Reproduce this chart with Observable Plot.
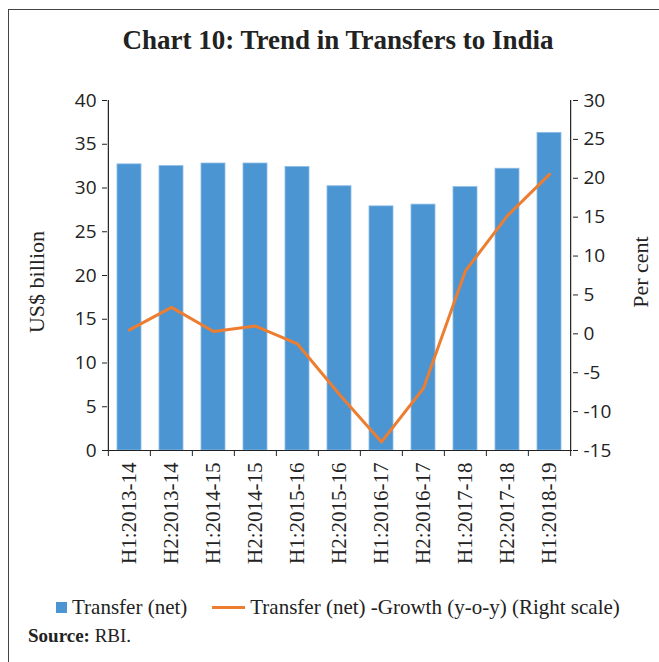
<!DOCTYPE html>
<html><head><meta charset="utf-8">
<script src="https://cdn.jsdelivr.net/npm/d3@7"></script>
<script src="https://cdn.jsdelivr.net/npm/@observablehq/plot@0.6"></script>
<style>
body{margin:0;background:#fff;width:659px;height:662px;position:relative;overflow:hidden;font-family:"Liberation Serif",serif;color:#222}
#frame{position:absolute;left:8px;top:9px;width:700px;height:700px;border-left:1.5px solid #444;border-top:1.5px solid #444}
#title{position:absolute;left:0;width:676px;top:24px;text-align:center;font-weight:bold;font-size:27px;line-height:32px}
#chart{position:absolute;left:0;top:70px}
.ylab{position:absolute;font-size:22px;white-space:nowrap;line-height:22px;transform:translate(-50%,-50%) rotate(-90deg)}
#legend{position:absolute;left:56px;top:595px;font-size:21px;line-height:24px;display:flex;align-items:center;white-space:nowrap}
.sw{display:inline-block;width:11px;height:11px;background:#4b96d2;margin-right:5px}
.ln{display:inline-block;width:33px;height:3px;background:#ed7d31;margin-left:25px;margin-right:5px}
#source{position:absolute;left:28px;top:625px;font-size:19px;line-height:22px}
</style></head>
<body>
<div id="frame"></div>
<div id="title">Chart 10: Trend in Transfers to India</div>
<div id="chart"></div>
<div class="ylab" style="left:37px;top:282px">US$ billion</div>
<div class="ylab" style="left:641px;top:272px">Per cent</div>
<div id="legend"><span class="sw"></span><span>Transfer (net)</span><span class="ln"></span><span>Transfer (net) -Growth (y-o-y) (Right scale)</span></div>
<div id="source"><b>Source:</b> RBI.</div>
<script>
const categories = ["H1:2013-14","H2:2013-14","H1:2014-15","H2:2014-15","H1:2015-16","H2:2015-16","H1:2016-17","H2:2016-17","H1:2017-18","H2:2017-18","H1:2018-19"];
const transfers = [32.7,32.5,32.8,32.8,32.4,30.2,27.9,28.1,30.1,32.2,36.3];
const growth = [0.5,3.4,0.3,1.0,-1.3,-7.8,-13.9,-7.0,8.1,15.2,20.5];
const leftTicks = [0,5,10,15,20,25,30,35,40];
const rightTicks = [-15,-10,-5,0,5,10,15,20,25,30];

const rightMin = -15, rightMax = 30, leftMin = 0, leftMax = 40;
const toLeft = v => leftMin + (v - rightMin) * (leftMax - leftMin) / (rightMax - rightMin);
const fromLeft = d => Math.round(rightMin + (d - leftMin) * (rightMax - rightMin) / (leftMax - leftMin));

const W = 659, H = 500, ml = 107, mr = 87, mt = 30, mb = 120;
const step = (W - ml - mr) / categories.length;
const last = categories[categories.length - 1];

const barData = categories.map((c, i) => ({c, v: transfers[i]}));
const lineData = categories.map((c, i) => ({c, g: growth[i]}));

const chart = Plot.plot({
  width: W, height: H, marginLeft: ml, marginRight: mr, marginTop: mt, marginBottom: mb,
  style: {fontFamily: "Open Sans", fontSize: "19px", color: "#222", background: "transparent"},
  x: {domain: categories, paddingInner: 0.42, paddingOuter: 0.21},
  y: {domain: [leftMin, leftMax]},
  marks: [
    Plot.barY(barData, {x: "c", y: "v", fill: "#4b96d2", stroke: "#8cbbe6", strokeWidth: 0.8}),
    Plot.line(lineData, {x: "c", y: d => toLeft(d.g), stroke: "#ed7d31", strokeWidth: 3}),
    Plot.axisY({anchor: "left", ticks: leftTicks, tickSize: 5, tickPadding: 6, label: null, stroke: "#222"}),
    Plot.axisY({anchor: "right", ticks: rightTicks.map(toLeft), tickFormat: d => String(fromLeft(d)), tickSize: 5, tickPadding: 6, label: null, stroke: "#222"}),
    Plot.ruleX([categories[0]], {dx: -step / 2, stroke: "#222", strokeWidth: 1.2}),
    Plot.ruleX([last], {dx: step / 2, stroke: "#222", strokeWidth: 1.2}),
    Plot.ruleY([0], {stroke: "#222", strokeWidth: 1.2}),
    Plot.axisX({ticks: categories, tickSize: 6, tickFormat: () => "", dx: -step / 2, label: null, stroke: "#222"}),
    Plot.axisX({ticks: [last], tickSize: 6, tickFormat: () => "", dx: step / 2, label: null, stroke: "#222"}),
    Plot.axisX({ticks: categories, tickSize: 0, tickRotate: -90, tickPadding: 12, label: null, fontFamily: "Liberation Serif", fontSize: 21})
  ]
});
document.getElementById("chart").appendChild(chart);
</script>
</body></html>
